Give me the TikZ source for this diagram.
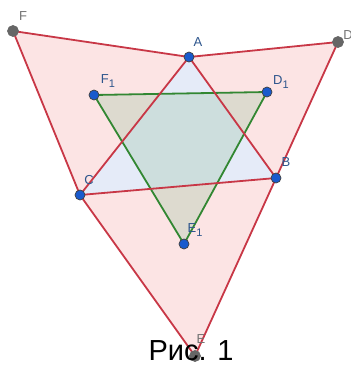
\documentclass[tikz,border=0pt]{standalone}
\usepackage{fontspec}
\setmainfont{Liberation Sans}
\usetikzlibrary{positioning}

\definecolor{redline}{RGB}{200,55,70}
\definecolor{pinkfill}{RGB}{252,228,228}
\definecolor{bluefill}{RGB}{229,235,248}
\definecolor{greenline}{RGB}{50,135,50}
\definecolor{greenfill}{RGB}{150,195,160}
\definecolor{ptblue}{RGB}{25,90,205}
\definecolor{lblblue}{RGB}{45,85,140}

\newcommand{\subone}{\raisebox{-0.45ex}{\fontsize{11}{11}\selectfont 1}}

\tikzset{
  side/.style={draw=redline, line width=1.8pt, line join=round},
  inner/.style={draw=greenline, line width=1.8pt, line join=round, fill=greenfill, fill opacity=0.3},
  bpt/.style={circle, draw=black!75, fill=ptblue, line width=0.7pt, inner sep=0pt, minimum size=10pt},
  gpt/.style={circle, draw=black!60, fill=black!60, line width=0.7pt, inner sep=0pt, minimum size=11pt},
  lbl/.style={text=lblblue, font=\fontsize{13}{13}\selectfont},
  glbl/.style={text=black!55, font=\fontsize{13}{13}\selectfont},
}

\begin{document}
\begin{tikzpicture}[x=1pt, y=-1pt]
  \useasboundingbox (0,0) rectangle (351,365);

  % vertices
  \coordinate (A) at (189,57);
  \coordinate (B) at (276,178);
  \coordinate (C) at (80,195);
  \coordinate (D) at (338,42);
  \coordinate (E) at (195,356);
  \coordinate (F) at (13,31);
  \coordinate (D1) at (267,92);
  \coordinate (E1) at (184,244);
  \coordinate (F1) at (94,95);

  % outer triangles
  \fill[pinkfill] (A) -- (D) -- (B) -- cycle;
  \fill[pinkfill] (B) -- (E) -- (C) -- cycle;
  \fill[pinkfill] (C) -- (F) -- (A) -- cycle;
  \fill[bluefill] (A) -- (B) -- (C) -- cycle;

  % centres
  \draw[inner] (F1) -- (D1) -- (E1) -- cycle;

  \draw[side] (F) -- (A) -- (D) -- (E) -- (C) -- cycle;
  \draw[side] (A) -- (B) -- (C) -- cycle;

  % points
  \node[gpt] (pD) at (D) {};
  \node[gpt] (pE) at (E) {};
  \node[gpt] (pF) at (F) {};
  \foreach \p in {A,B,C,D1,E1,F1}
    \node[bpt] (p\p) at (\p) {};

  \node[lbl] (lA) at (198,42) {A};
  \node[lbl] (lB) at (286,162) {B};
  \node[lbl] (lC) at (89,180) {C};
  \node[glbl] (lD) at (348,35) {D};
  \node[glbl] (lE) at (201,339) {E};
  \node[glbl] (lF) at (23,16) {F};
  \node[lbl] (lD1) at (281,82) {D\subone};
  \node[lbl] (lE1) at (195,230) {E\subone};
  \node[lbl] (lF1) at (108,81) {F\subone};

  \node[anchor=base, font=\fontsize{29}{29}\selectfont] (cap) at (191,360) {Рис. 1};
\end{tikzpicture}
\end{document}
